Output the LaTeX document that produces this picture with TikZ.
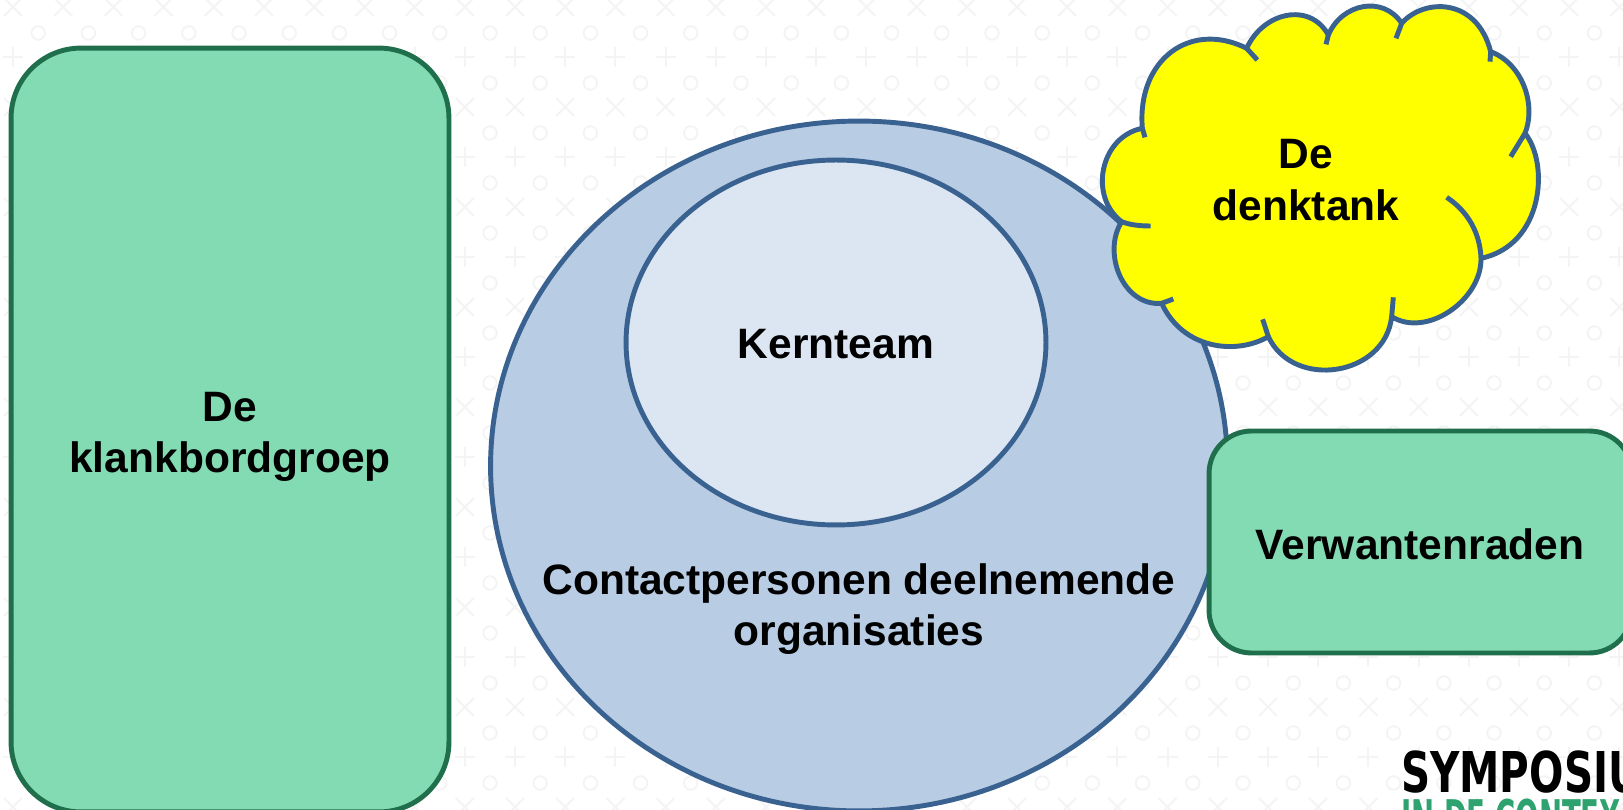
\documentclass[tikz,border=0pt]{standalone}
\usepackage{fontspec}
\setmainfont{Liberation Sans}
\newfontfamily\logofont{DejaVu Sans}
\usetikzlibrary{shapes.geometric}

\definecolor{bggrey}{HTML}{F4F4F4}
\definecolor{boxgreen}{HTML}{82DBB3}
\definecolor{boxline}{HTML}{1F6F4C}
\definecolor{circblue}{HTML}{B8CCE4}
\definecolor{circlight}{HTML}{DCE6F2}
\definecolor{circline}{HTML}{3A6291}
\definecolor{cloudyellow}{HTML}{FFFF00}
\definecolor{logogreen}{HTML}{2FA36F}

\begin{document}
\begin{tikzpicture}[x=0.02cm,y=-0.02cm,
    greenbox/.style={rectangle,draw=boxline,fill=boxgreen,line width=2.8pt},
    bigoval/.style={ellipse,draw=circline,line width=2.8pt,inner sep=0pt},
    label/.style={align=center,font=\fontsize{24.2}{29.3}\selectfont\bfseries},
    cloudline/.style={draw=circline,line width=2.8pt}]

    \useasboundingbox (0,0) rectangle (1623,810);
    \fill[white] (0,0) rectangle (1623,810);

    % pattern behind everything
    \foreach \k in {0,...,32}{
        \foreach \r in {0,...,8}{
            \node[circle,draw=bggrey,line width=1.1pt,minimum size=0.27cm,inner sep=0pt] (oa\k-\r) at (-12+\k*50.2,33+\r*100) {};
            \node[circle,draw=bggrey,line width=1.1pt,minimum size=0.27cm,inner sep=0pt] (ob\k-\r) at (-12+\k*50.2,83+\r*100) {};
            \draw[bggrey,line width=1.1pt] (13+\k*50.2-9,7+\r*100-9) -- ++(18,18) (13+\k*50.2+9,7+\r*100-9) -- ++(-18,18);
            \draw[bggrey,line width=1.1pt] (13+\k*50.2-10,57+\r*100) -- ++(20,0) (13+\k*50.2,57+\r*100-10) -- ++(0,20);
        }
    }

    \node[greenbox,rounded corners=1.4cm,minimum width=8.76cm,minimum height=15.28cm] (klankbord) at (230,430) {};
    \node[label] (klankbordtext) at (230,437) {De\\klankbordgroep};

    \node[bigoval,fill=circblue,minimum width=14.74cm,minimum height=13.8cm] (contact) at (859,466) {};
    \node[bigoval,fill=circlight,minimum width=8.4cm,minimum height=7.3cm] (kern) at (836,342.5) {};
    \node[label] (kerntext) at (836,344) {Kernteam};
    \node[label] (contacttext) at (859,609) {Contactpersonen deelnemende\\organisaties};

    \node[greenbox,rounded corners=0.85cm,minimum width=8.46cm,minimum height=4.44cm] (verwanten) at (1420.5,542) {};
    \node[label] (verwantentext) at (1420,544) {Verwantenraden};

    % the cloud, in coordinates of a 3x crop
    \begin{scope}[shift={(1080,0)},scale=1/3]
        \path[cloudline,fill=cloudyellow,line join=round]
            (187,385) .. controls (170,180) and (330,60) .. (500,145)
            .. controls (550,35) and (690,5) .. (745,105)
            .. controls (785,10) and (910,-15) .. (965,70)
            .. controls (1030,-5) and (1190,-10) .. (1232,155)
            .. controls (1325,190) and (1370,310) .. (1335,400)
            .. controls (1408,490) and (1392,735) .. (1203,775)
            .. controls (1205,900) and (1040,1015) .. (935,950)
            .. controls (915,1130) and (640,1170) .. (565,1010)
            .. controls (470,1065) and (310,1050) .. (245,910)
            .. controls (130,920) and (65,760) .. (125,665)
            .. controls (25,590) and (60,410) .. (187,385)
            -- cycle;
        \path[cloudline]
            (187,385) -- (195,412)
            (500,145) -- (532,180)
            (745,105) -- (738,133)
            (965,70) -- (948,115)
            (1232,155) -- (1230,185)
            (1335,400) -- (1292,470)
            (1203,775) .. controls (1200,700) and (1165,635) .. (1100,592)
            (935,950) -- (940,892)
            (565,1010) -- (548,958)
            (245,910) -- (280,897)
            (125,665) .. controls (150,675) and (180,678) .. (212,678);
    \end{scope}
    \node[label] (denktank) at (1306,180) {De\\denktank};

    % logo, runs off the page
    \node[anchor=base west,inner sep=0pt,xscale=0.72,font=\logofont\fontsize{32}{32}\selectfont\bfseries] (logotop) at (1401,792) {SYMPOSIU};
    \node[anchor=base west,inner sep=0pt,xscale=0.56,text=logogreen,font=\logofont\fontsize{28}{28}\selectfont\bfseries] (logobottom) at (1401,835) {IN DE CONTEX};
\end{tikzpicture}
\end{document}
